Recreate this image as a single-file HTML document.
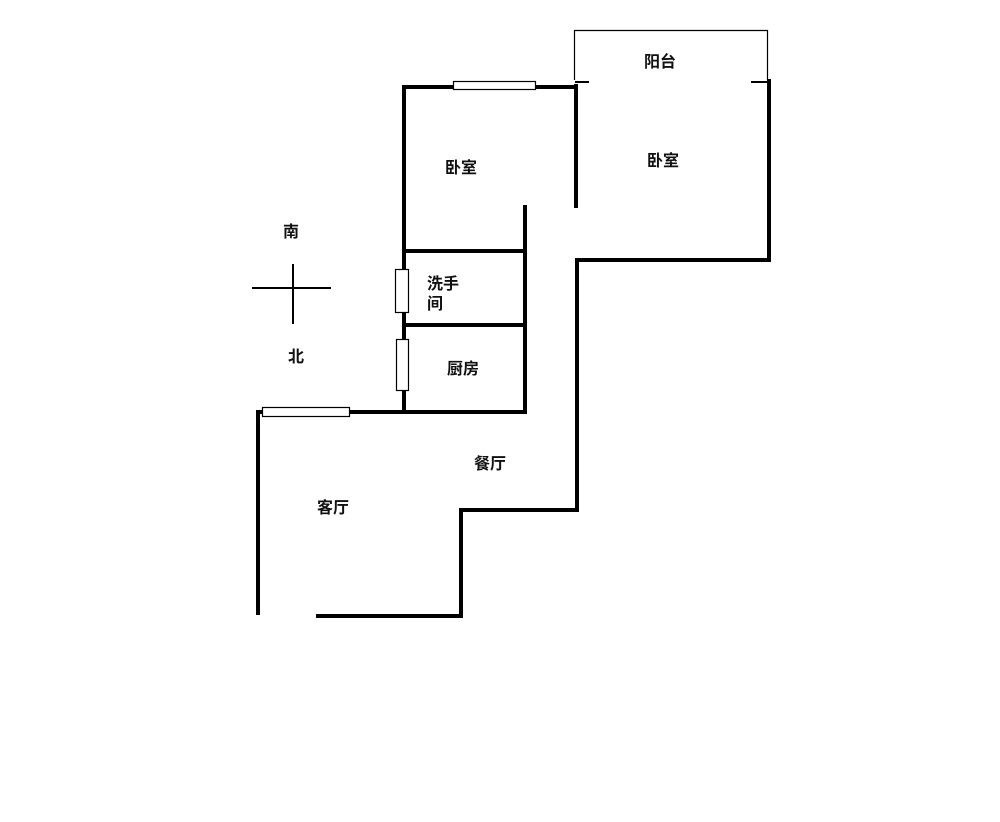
<!DOCTYPE html>
<html><head><meta charset="utf-8"><style>
html,body{margin:0;padding:0;background:#fff;}
svg{display:block;}
text{font-family:"Liberation Sans","Noto Sans CJK SC",sans-serif;font-weight:bold;font-size:16px;fill:#111;}
</style></head><body>
<svg width="1000" height="822" viewBox="0 0 1000 822" xmlns="http://www.w3.org/2000/svg">
<g stroke="#000" fill="none" stroke-width="4" stroke-linecap="square">
<!-- left bedroom -->
<polyline points="404,412 404,87 576,87"/>
<line x1="576" y1="86" x2="576" y2="206"/>
<line x1="525" y1="207" x2="525" y2="412"/>
<line x1="404" y1="251" x2="525" y2="251"/>
<line x1="404" y1="325" x2="525" y2="325"/>
<!-- right side -->
<polyline points="769,81 769,260 577,260 577,510 461,510 461,616 318,616"/>
<!-- living room -->
<polyline points="258,613 258,412 525,412"/>
</g>
<g stroke="#000" fill="none" stroke-width="2">
<line x1="575" y1="82" x2="589" y2="82"/>
<line x1="751" y1="82" x2="768" y2="82"/>
</g>
<g stroke="#000" fill="none" stroke-width="1.2">
<polyline points="574.5,80 574.5,30.5 767.5,30.5 767.5,80"/>
<rect x="453.5" y="81.5" width="82" height="8" fill="#fff"/>
<rect x="262.5" y="407.5" width="87" height="9" fill="#fff"/>
<rect x="395.5" y="269.5" width="13" height="43" fill="#fff"/>
<rect x="396.5" y="339.5" width="12" height="51" fill="#fff"/>
</g>
<g stroke="#000" stroke-width="2">
<line x1="252" y1="288" x2="331" y2="288"/>
<line x1="293" y1="264" x2="293" y2="324"/>
</g>
<text x="283" y="237">南</text>
<text x="288" y="362">北</text>
<text x="445" y="173">卧室</text>
<text x="647" y="166">卧室</text>
<text x="644" y="67">阳台</text>
<text x="427" y="289">洗手</text>
<text x="427" y="309">间</text>
<text x="447" y="374">厨房</text>
<text x="474" y="469">餐厅</text>
<text x="317" y="513">客厅</text>
</svg>
</body></html>
